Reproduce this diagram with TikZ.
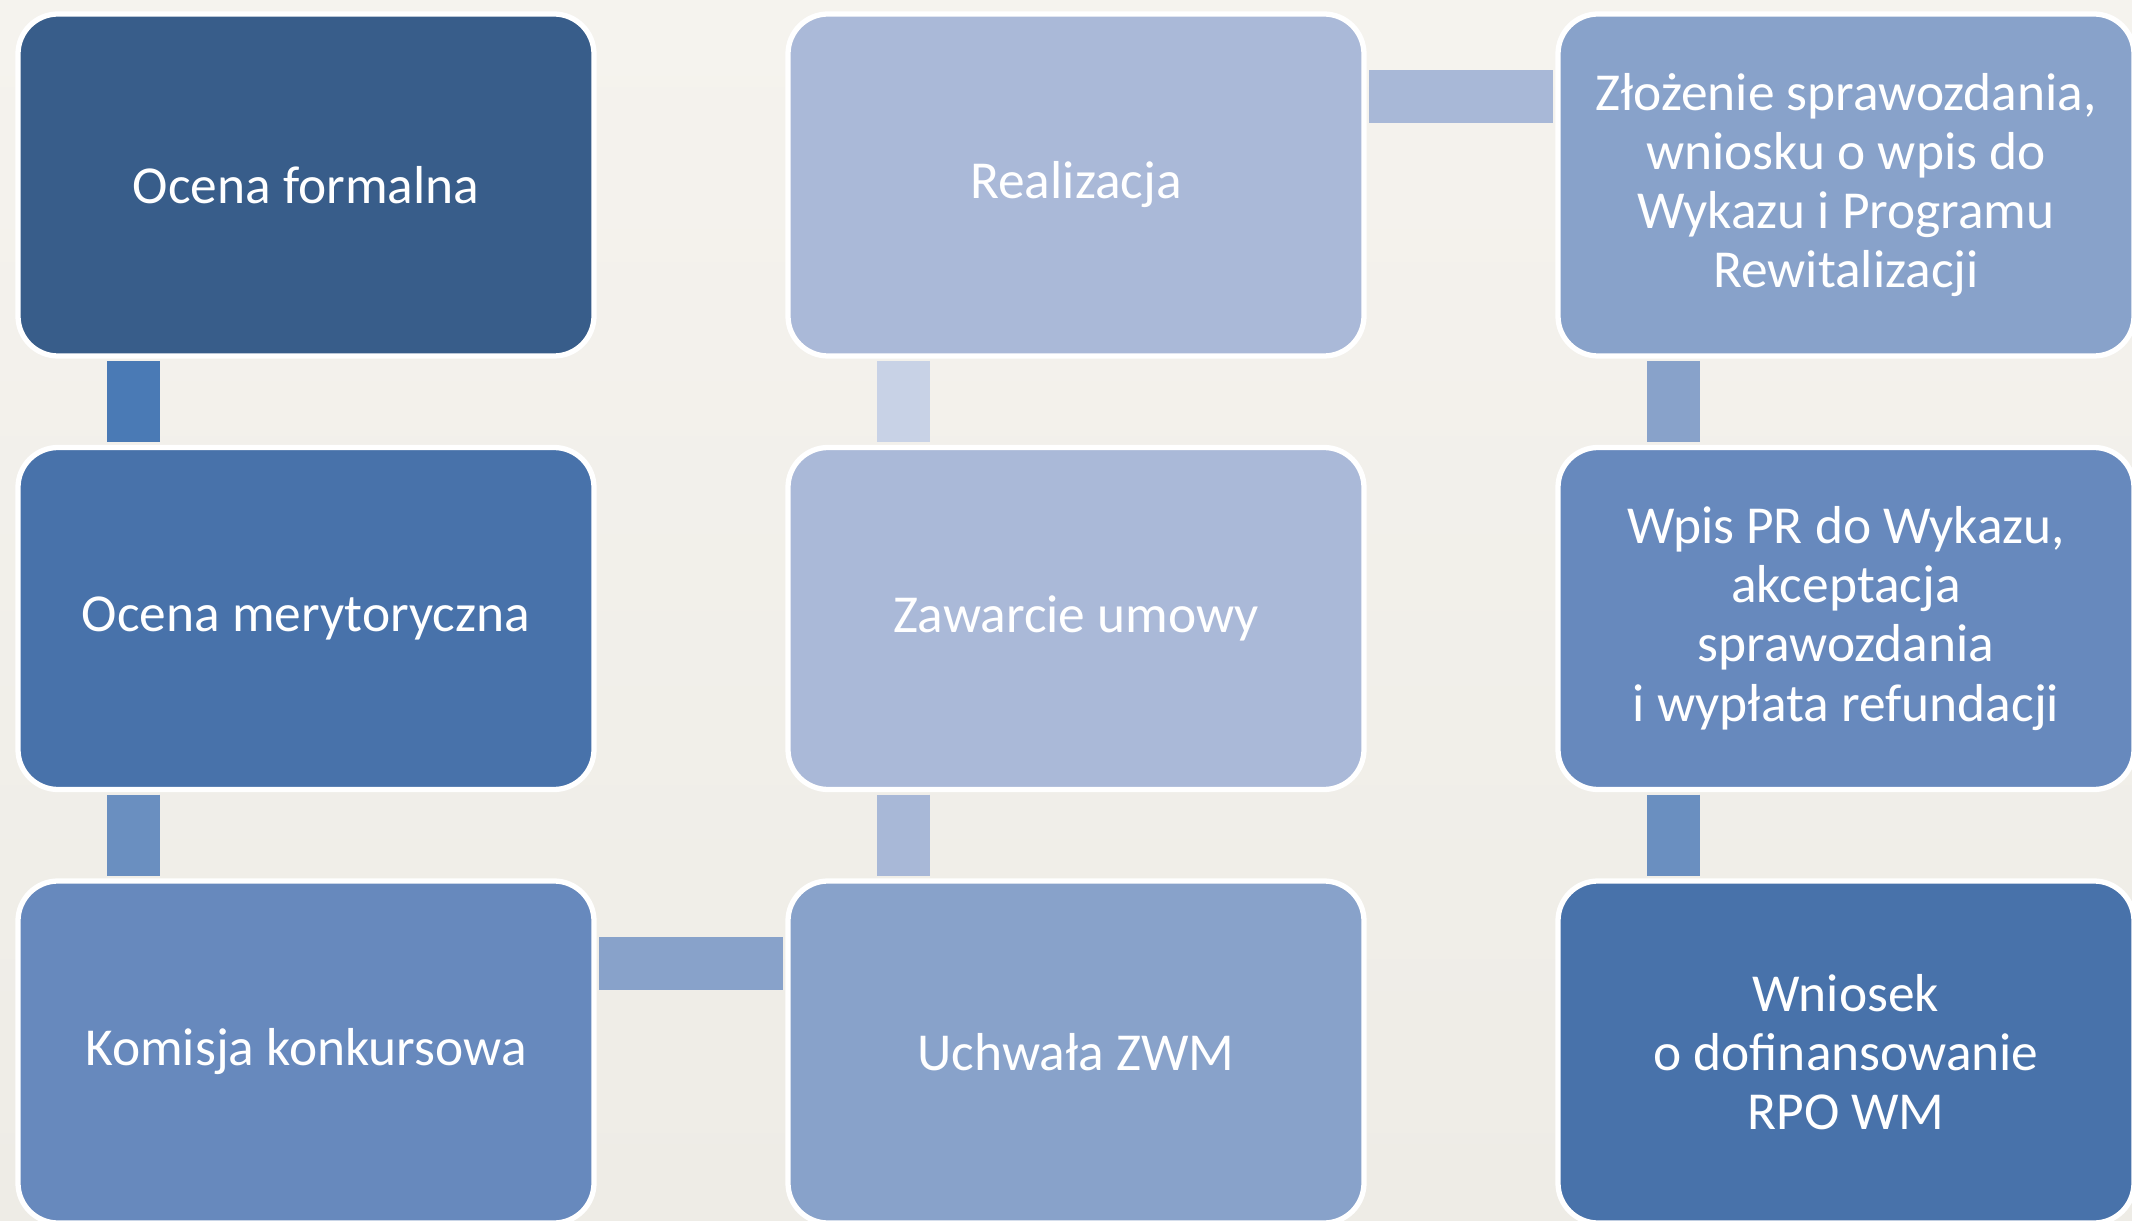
\documentclass[tikz,border=0pt]{standalone}
\usepackage{fontspec}
\setmainfont{Carlito}
\definecolor{bgtop}{HTML}{F5F3EE}
\definecolor{bgmid}{HTML}{E1DED9}
\definecolor{bgbot}{HTML}{EEECE6}
\definecolor{cFormal}{HTML}{385D8A}
\definecolor{cDark}{HTML}{4872AA}
\definecolor{cMid}{HTML}{6789BD}
\definecolor{cSoft}{HTML}{88A2CA}
\definecolor{cPale}{HTML}{AAB9D8}
\definecolor{lA}{HTML}{4A7AB5}
\definecolor{lB}{HTML}{6A8FC0}
\definecolor{lC}{HTML}{88A2CA}
\definecolor{lD}{HTML}{A8B8D7}
\definecolor{lE}{HTML}{C8D2E6}
\tikzstyle{stage}=[draw=white,line width=1.5pt,rounded corners=0.4cm,minimum width=5.76cm,minimum height=3.42cm,inner sep=0pt,text=white,align=center,font=\fontsize{15.2}{16.8}\selectfont]
\tikzstyle{link}=[line width=0.53cm,shorten <=0.7pt,shorten >=0.7pt]

\begin{document}
\begin{tikzpicture}
                              % Page with a soft paper background
                              \clip (0,0) rectangle (21.32,12.20);
                              \shade[top color=bgtop,middle color=bgmid,bottom color=bgbot] (0,0) rectangle (21.32,12.20);
                              % First we draw the stages
                              \foreach \pos/\name/\col/\la in {{(3.06,10.35)/formalna/cFormal/Ocena formalna},
                                    {(3.06,6.015)/merytoryczna/cDark/Ocena merytoryczna},
                                    {(3.06,1.68)/komisja/cMid/Komisja konkursowa},
                                    {(10.76,1.68)/uchwala/cSoft/Uchwała ZWM},
                                    {(10.76,6.015)/umowa/cPale/Zawarcie umowy},
                                    {(10.76,10.35)/realizacja/cPale/Realizacja},
                                    {(18.46,10.35)/zlozenie/cSoft/Złożenie sprawozdania,\\wniosku o wpis do\\Wykazu i Programu\\Rewitalizacji},
                                    {(18.46,6.015)/wpis/cMid/Wpis PR do Wykazu,\\akceptacja\\sprawozdania\\i wypłata refundacji},
                                    {(18.46,1.68)/wniosek/cDark/Wniosek\\o dofinansowanie\\RPO WM}}
                                    \node[stage,fill=\col] (\name) at \pos {\la};
                              % Connect the stages with bars
                              \foreach \source/\dest/\col in {formalna/merytoryczna/lA, merytoryczna/komisja/lB, umowa/uchwala/lD, realizacja/umowa/lE, zlozenie/wpis/lC, wpis/wniosek/lB}
                                    \path[link,draw=\col] ([xshift=1.18cm]\source.south west) -- ([xshift=1.18cm]\dest.north west);
                              \foreach \source/\dest/\col in {komisja/uchwala/lC, realizacja/zlozenie/lD}
                                    \path[link,draw=\col] ([yshift=-0.855cm]\source.north east) -- ([yshift=-0.855cm]\dest.north west);
                        \end{tikzpicture}
\end{document}
